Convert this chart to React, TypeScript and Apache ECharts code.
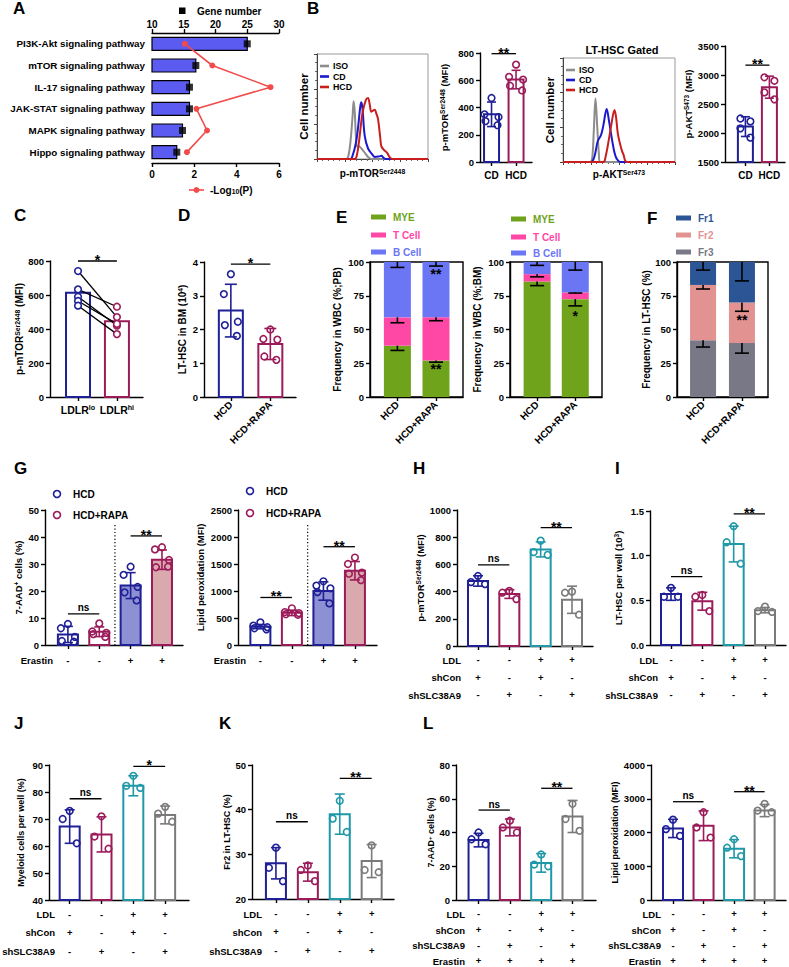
import React, { useEffect, useRef } from "react";
import * as echarts from "echarts";

const FONT = "Liberation Sans";
const BLACK = "#000";

// ---------------- DATA ----------------
// A
const pathways = ["PI3K-Akt signaling pathway", "mTOR signaling pathway", "IL-17 signaling pathway", "JAK-STAT signaling pathway", "MAPK signaling pathway", "Hippo signaling pathway"];
const geneNumber = [25, 16.9, 15.9, 15.9, 14.8, 13.9];
const negLog10P = [1.55, 2.85, 5.6, 2.1, 2.6, 1.65];

// B histograms [relative fluorescence, relative count]
const mtorIso = [[0, 0], [26, 0], [28, 2], [30, 15], [32, 40], [33, 55], [34, 45], [35, 22], [36, 12], [38, 12], [40, 10], [43, 6], [46, 2], [49, 0], [100, 0]];
const mtorCd = [[0, 0], [30, 0], [32, 3], [35, 15], [37, 30], [39, 50], [40, 54], [41, 48], [43, 22], [46, 10], [50, 4], [52, 2], [56, 2.5], [58, 3], [60, 1], [62, 0], [100, 0]];
const mtorHcd = [[0, 0], [34, 0], [36, 4], [38, 18], [41, 44], [44, 56], [46, 58], [47.5, 52], [49, 45], [52, 47], [53.5, 43], [55, 38], [57, 20], [58, 12], [60, 9], [63, 6], [66, 1], [68, 0], [100, 0]];
const aktIso = [[0, 0], [24, 0], [26, 3], [27.5, 30], [29, 61], [30.5, 35], [32, 8], [33, 0], [100, 0]];
const aktCd = [[0, 0], [25, 0], [28, 5], [31, 20], [34, 26], [36, 35], [39, 51], [41, 40], [44, 20], [46, 9], [48, 3], [51, 0], [100, 0]];
const aktHcd = [[0, 0], [36, 0], [38, 5], [41, 22], [43, 35], [46, 50], [47.5, 42], [49, 27], [52, 13], [54, 7], [57, 0], [100, 0]];

// B bars
const groupsB = ["CD", "HCD"];
const mtorMean = [350, 605];
const mtorSD = [90, 68];
const mtorPoints = [[470, 350, 330, 300, 270], [715, 625, 605, 560, 525]];
const mtorSig: [number, number, number, string][] = [[0, 1, 795, "**"]];
const aktMean = [2110, 2790];
const aktSD = [170, 190];
const aktPoints = [[2250, 2200, 2080, 1920], [2960, 2900, 2700, 2580]];
const aktSig: [number, number, number, string][] = [[0, 1, 3170, "**"]];

// C
const groupsC = ["LDLR{sup|lo}", "LDLR{sup|hi}"];
const cMean = [613, 445];
const cLo = [741, 633, 590, 565, 537];
const cHi = [470, 531, 420, 430, 370];
const cSig: [number, number, number, string][] = [[0, 1, 800, "*"]];

// D
const groupsRapa = ["HCD", "HCD+RAPA"];
const dMean = [2.56, 1.57];
const dSD = [0.78, 0.46];
const dPoints = [[3.64, 3.05, 2.23, 2.13, 1.81], [2.0, 1.72, 1.7, 1.2, 1.1]];
const dSig: [number, number, number, string][] = [[0, 1, 3.94, "*"]];

// E (PB)
const ePbMye = [38, 27];
const ePbT = [21, 32];
const ePbB = [41, 41];
const ePbMyeErr = [3.5, 1.2];
const ePbTErr = [4, 2.5];
const ePbBErr = [4, 3];
const ePbStars: [number, number, string][] = [[1, 21, "**"], [1, 91, "**"]];
// E (BM)
const eBmMye = [85.5, 72.5];
const eBmT = [5.5, 5];
const eBmB = [9, 22.5];
const eBmMyeErr = [3, 5];
const eBmTErr = [2, 0.5];
const eBmBErr = [2.5, 6];
const eBmStars: [number, number, string][] = [[1, 60, "*"]];
// F
const fFr3 = [42, 40];
const fFr2 = [41, 30];
const fFr1 = [17, 30];
const fFr3Err = [5, 7.5];
const fFr2Err = [3, 6.5];
const fFr1Err = [6, 14];
const fStars: [number, number, string][] = [[1, 57, "**"]];

// G
const erastinRow = ["-", "-", "+", "+"];
const gAadMean = [3.9, 4.9, 22.0, 31.6];
const gAadSD = [3.0, 1.8, 4.8, 3.6];
const gAadPoints = [[7.8, 6.2, 3.0, 1.5, 1.2], [8.0, 5.0, 4.5, 4.0, 3.0], [29, 26, 21.5, 19.5, 16.5], [36.2, 35.4, 31.5, 28.8, 29]];
const gAadSig: [number, number, number, string][] = [[0, 1, 11.5, "ns"], [2, 3, 40.4, "**"]];
const gLipMean = [340, 595, 1000, 1375];
const gLipSD = [40, 50, 170, 170];
const gLipPoints = [[420, 360, 330, 310, 290], [680, 610, 590, 570, 560], [1180, 1100, 1050, 980, 770], [1620, 1500, 1340, 1320, 1200]];
const gLipSig: [number, number, number, string][] = [[0, 1, 880, "**"], [2, 3, 1820, "**"]];

// H - L rows
const ldlRow = ["-", "-", "+", "+"];
const shConRow = ["+", "-", "+", "-"];
const shSlcRow = ["-", "+", "-", "+"];
const erastinAll = ["+", "+", "+", "+"];

const hMean = [478, 382, 710, 340];
const hSD = [38, 32, 55, 100];
const hPoints = [[515, 470, 455], [405, 392, 345], [775, 690, 670], [400, 392, 230]];
const hSig: [number, number, number, string][] = [[0, 1, 596, "ns"], [2, 3, 870, "**"]];

const iMean = [0.57, 0.49, 1.13, 0.39];
const iSD = [0.07, 0.1, 0.2, 0.03];
const iPoints = [[0.64, 0.54, 0.54], [0.56, 0.54, 0.38], [1.33, 1.15, 0.91], [0.43, 0.38, 0.37]];
const iSig: [number, number, number, string][] = [[0, 1, 0.765, "ns"], [2, 3, 1.467, "**"]];

const jMean = [67.2, 64.3, 82.3, 71.5];
const jSD = [6.2, 6.5, 3.7, 3.3];
const jPoints = [[73, 70, 61], [71, 63.5, 59], [86, 82.3, 81.5], [74.5, 72, 69]];
const jSig: [number, number, number, string][] = [[0, 1, 77.5, "ns"], [2, 3, 89.5, "*"]];

const kMean = [28, 26, 39, 28.5];
const kSD = [3.5, 2, 4.5, 3.7];
const kPoints = [[31.5, 27, 24], [27.5, 26.5, 24], [42, 38, 35], [32, 26.5, 26]];
const kSig: [number, number, number, string][] = [[0, 1, 37.3, "ns"], [2, 3, 47, "**"]];

const lAadMean = [35.5, 43, 22, 49.5];
const lAadSD = [4, 5, 5.5, 9.5];
const lAadPoints = [[40, 36, 33], [47, 43, 40], [27, 21, 20], [57, 48, 41]];
const lAadSig: [number, number, number, string][] = [[0, 1, 53.3, "ns"], [2, 3, 66.2, "**"]];

const lLipMean = [2120, 2200, 1520, 2650];
const lLipSD = [270, 440, 270, 180];
const lLipPoints = [[2380, 2100, 1900], [2600, 2150, 1850], [1800, 1550, 1300], [2850, 2650, 2600]];
const lLipSig: [number, number, number, string][] = [[0, 1, 2912, "ns"], [2, 3, 3209, "**"]];

// ---------------- STYLE ----------------
const NAVY = "#1f1f96";
const MAROON = "#9b1b5a";
const TEAL = "#1f98a8";
const GREY = "#7a7a7a";
const NAVY_FILL = "#8d90d2";
const MAROON_FILL = "#d9a9ad";
const C_MYE = "#6ea31b";
const C_T = "#ff48a5";
const C_B = "#6b76f5";
const C_FR1 = "#2c5595";
const C_FR2 = "#e39292";
const C_FR3 = "#787886";

const JIT: Record<number, number[]> = {
  3: [0, -7, 7],
  4: [-5, 5, -5, 5],
  5: [0, -7, 7, -6, 6],
};

const axLine = { show: true, onZero: false, lineStyle: { color: BLACK, width: 1.4 } };
const axTick = { show: true, length: 4, inside: false, lineStyle: { color: BLACK, width: 1.4 } };
const txt = (size = 9.5) => ({ color: BLACK, fontFamily: FONT, fontWeight: "bold", fontSize: size });
const richFor = (size: number) => ({
  sup: { fontSize: size * 0.68, verticalAlign: "top", fontFamily: FONT, fontWeight: "bold", color: BLACK },
  sub: { fontSize: size * 0.68, verticalAlign: "bottom", fontFamily: FONT, fontWeight: "bold", color: BLACK },
});

type Opt = { grid: any[]; xAxis: any[]; yAxis: any[]; series: any[]; graphic: any[] };

interface PanelCfg {
  left: number; top: number; width: number; height: number;
  xMin: number; xMax: number; yMin: number; yMax: number; yInterval: number;
  labels: string[]; rotate?: number; labelMargin?: number; lineHeight?: number; labelSize?: number;
  yName: string; yNameGap: number; yNameSize?: number; frame?: boolean; yDecimals?: number;
}

interface Ax { xi: number; yi: number; c: PanelCfg }

function panel(o: Opt, c: PanelCfg): Ax {
  const gi = o.grid.length;
  o.grid.push({
    left: c.left, top: c.top, width: c.width, height: c.height, containLabel: false, outerBoundsMode: "none",
    show: !!c.frame, borderColor: BLACK, borderWidth: 1.4, backgroundColor: "transparent",
  });
  const idx = c.labels.map((_, i) => i);
  const xi = o.xAxis.length;
  const ls = c.labelSize ?? 9.5;
  o.xAxis.push({
    gridIndex: gi, type: "value", min: c.xMin, max: c.xMax,
    splitLine: { show: false },
    axisLine: axLine,
    axisTick: { ...axTick, customValues: idx },
    axisLabel: {
      ...txt(ls), customValues: idx, formatter: (v: number) => c.labels[Math.round(v)] ?? "",
      margin: c.labelMargin ?? 6, rotate: c.rotate ?? 0, lineHeight: c.lineHeight, rich: richFor(ls), hideOverlap: false,
    },
  });
  const yi = o.yAxis.length;
  const ns = c.yNameSize ?? 9.5;
  o.yAxis.push({
    gridIndex: gi, type: "value", min: c.yMin, max: c.yMax, interval: c.yInterval,
    splitLine: { show: false },
    axisLine: axLine,
    axisTick: axTick,
    axisLabel: {
      ...txt(9.5), margin: 6,
      formatter: (v: number) => (c.yDecimals ? v.toFixed(c.yDecimals) : String(v)),
    },
    name: c.yName, nameLocation: "middle", nameGap: c.yNameGap, nameRotate: 90,
    nameTextStyle: { ...txt(ns), rich: richFor(ns) },
  });
  return { xi, yi, c };
}

function addBars(o: Opt, a: Ax, means: number[], fills: string[], strokes: string[], bw: number) {
  o.series.push({
    type: "custom", coordinateSystem: "cartesian2d", xAxisIndex: a.xi, yAxisIndex: a.yi, silent: true,
    data: means.map((m, i) => [i, m]),
    renderItem: (p: any, api: any) => {
      const i = api.value(0);
      const t = api.coord([i, api.value(1)]);
      const b = api.coord([i, a.c.yMin]);
      return {
        type: "rect",
        shape: { x: t[0] - bw / 2, y: t[1], width: bw, height: b[1] - t[1] },
        style: { fill: fills[p.dataIndex], stroke: strokes[p.dataIndex], lineWidth: 2 },
      };
    },
  });
}

function addErr(o: Opt, a: Ax, means: number[], sds: number[], colors: string[], cap = 10) {
  o.series.push({
    type: "custom", coordinateSystem: "cartesian2d", xAxisIndex: a.xi, yAxisIndex: a.yi, silent: true,
    data: means.map((m, i) => [i, m - sds[i], m + sds[i]]),
    renderItem: (p: any, api: any) => {
      const i = api.value(0);
      const lo = api.coord([i, api.value(1)]);
      const hi = api.coord([i, api.value(2)]);
      const st = { stroke: colors[p.dataIndex], lineWidth: 1.6 };
      return {
        type: "group",
        children: [
          { type: "line", shape: { x1: lo[0], y1: lo[1], x2: hi[0], y2: hi[1] }, style: st },
          { type: "line", shape: { x1: hi[0] - cap / 2, y1: hi[1], x2: hi[0] + cap / 2, y2: hi[1] }, style: st },
          { type: "line", shape: { x1: lo[0] - cap / 2, y1: lo[1], x2: lo[0] + cap / 2, y2: lo[1] }, style: st },
        ],
      };
    },
  });
}

function addPoints(o: Opt, a: Ax, pts: number[][], colors: string[]) {
  const data: number[][] = [];
  pts.forEach((arr, i) => arr.forEach((v, k) => data.push([i, v, k])));
  o.series.push({
    type: "custom", coordinateSystem: "cartesian2d", xAxisIndex: a.xi, yAxisIndex: a.yi, silent: true,
    data,
    renderItem: (p: any, api: any) => {
      const i = api.value(0);
      const k = api.value(2);
      const pt = api.coord([i, api.value(1)]);
      const j = (JIT[pts[i].length] || [0])[k] || 0;
      return {
        type: "circle",
        shape: { cx: pt[0] + j, cy: pt[1], r: 3.3 },
        style: { fill: "none", stroke: colors[i], lineWidth: 1.6 },
      };
    },
  });
}

function addSig(o: Opt, a: Ax, sigs: [number, number, number, string][]) {
  o.series.push({
    type: "custom", coordinateSystem: "cartesian2d", xAxisIndex: a.xi, yAxisIndex: a.yi, silent: true,
    data: sigs.map((s) => [s[0], s[1], s[2]]),
    renderItem: (p: any, api: any) => {
      const s = api.coord([api.value(0), api.value(2)]);
      const e = api.coord([api.value(1), api.value(2)]);
      const label = sigs[p.dataIndex][3];
      const isStar = label.indexOf("*") >= 0;
      return {
        type: "group",
        children: [
          { type: "line", shape: { x1: s[0], y1: s[1], x2: e[0], y2: e[1] }, style: { stroke: BLACK, lineWidth: 1.3 } },
          {
            type: "text", x: (s[0] + e[0]) / 2, y: isStar ? s[1] + 6 : s[1] - 1,
            style: { text: label, fill: BLACK, fontFamily: FONT, fontWeight: "bold", fontSize: isStar ? 14 : 10, align: "center", verticalAlign: "bottom" },
          },
        ],
      };
    },
  });
}

function addStars(o: Opt, a: Ax, stars: [number, number, string][]) {
  o.series.push({
    type: "custom", coordinateSystem: "cartesian2d", xAxisIndex: a.xi, yAxisIndex: a.yi, silent: true,
    data: stars.map((s) => [s[0], s[1]]),
    renderItem: (p: any, api: any) => {
      const pt = api.coord([api.value(0), api.value(1)]);
      return {
        type: "text", x: pt[0], y: pt[1],
        style: { text: stars[p.dataIndex][2], fill: BLACK, fontFamily: FONT, fontWeight: "bold", fontSize: 14, align: "center", verticalAlign: "middle" },
      };
    },
  });
}

function addStack(o: Opt, a: Ax, segs: { values: number[]; err: number[]; color: string }[], bw: number) {
  const n = segs[0].values.length;
  const base = new Array(n).fill(0);
  const errData: number[][] = [];
  segs.forEach((sg) => {
    const data = sg.values.map((v, i) => [i, base[i], base[i] + v]);
    sg.values.forEach((v, i) => {
      errData.push([i, base[i] + v, base[i] + v - sg.err[i]]);
      base[i] += v;
    });
    o.series.push({
      type: "custom", coordinateSystem: "cartesian2d", xAxisIndex: a.xi, yAxisIndex: a.yi, silent: true,
      data,
      renderItem: (p: any, api: any) => {
        const i = api.value(0);
        const lo = api.coord([i, api.value(1)]);
        const hi = api.coord([i, api.value(2)]);
        return { type: "rect", shape: { x: hi[0] - bw / 2, y: hi[1], width: bw, height: lo[1] - hi[1] }, style: { fill: sg.color } };
      },
    });
  });
  o.series.push({
    type: "custom", coordinateSystem: "cartesian2d", xAxisIndex: a.xi, yAxisIndex: a.yi, silent: true,
    data: errData,
    renderItem: (p: any, api: any) => {
      const i = api.value(0);
      const t = api.coord([i, api.value(1)]);
      const b = api.coord([i, api.value(2)]);
      const st = { stroke: BLACK, lineWidth: 1.6 };
      return {
        type: "group",
        children: [
          { type: "line", shape: { x1: t[0], y1: t[1], x2: b[0], y2: b[1] }, style: st },
          { type: "line", shape: { x1: b[0] - 7, y1: b[1], x2: b[0] + 7, y2: b[1] }, style: st },
        ],
      };
    },
  });
}

function addDotted(o: Opt, a: Ax, xv: number, top: number) {
  o.series.push({
    type: "custom", coordinateSystem: "cartesian2d", xAxisIndex: a.xi, yAxisIndex: a.yi, silent: true,
    data: [[xv, top]],
    renderItem: (p: any, api: any) => {
      const t = api.coord([api.value(0), api.value(1)]);
      const b = api.coord([api.value(0), a.c.yMin]);
      return { type: "line", shape: { x1: t[0], y1: t[1], x2: b[0], y2: b[1] }, style: { stroke: BLACK, lineWidth: 1.2, lineDash: [1.2, 2.2] } };
    },
  });
}

function histPanel(o: Opt, g: { left: number; top: number; width: number; height: number }, xName: string, nameGapX: number, curves: { data: number[][]; color: string }[]) {
  const gi = o.grid.length;
  o.grid.push({ ...g, containLabel: false, outerBoundsMode: "none", show: true, borderColor: "#9a9a9a", borderWidth: 1, backgroundColor: "transparent" });
  const xi = o.xAxis.length;
  o.xAxis.push({
    gridIndex: gi, type: "value", min: 0, max: 100, interval: 25,
    splitLine: { show: false },
    axisLine: { show: true, onZero: false, lineStyle: { color: "#444", width: 1 } },
    axisTick: { show: true, length: 3, lineStyle: { color: "#444" } },
    minorTick: { show: true, splitNumber: 5, length: 2, lineStyle: { color: "#666" } },
    axisLabel: { show: false },
    name: xName, nameLocation: "middle", nameGap: nameGapX, nameTextStyle: { ...txt(10), rich: richFor(10) },
  });
  const yi = o.yAxis.length;
  o.yAxis.push({
    gridIndex: gi, type: "value", min: 0, max: 100, interval: 100 / 3,
    splitLine: { show: false },
    axisLine: { show: true, onZero: false, lineStyle: { color: "#444", width: 1 } },
    axisTick: { show: true, length: 3, lineStyle: { color: "#444" } },
    minorTick: { show: true, splitNumber: 4, length: 2, lineStyle: { color: "#666" } },
    axisLabel: { show: false },
    name: "Cell number", nameLocation: "middle", nameGap: 7, nameTextStyle: txt(11.5),
  });
  curves.forEach((cv) => {
    o.series.push({
      type: "line", xAxisIndex: xi, yAxisIndex: yi, data: cv.data, showSymbol: false, smooth: 0.35,
      lineStyle: { color: cv.color, width: 2 }, itemStyle: { color: cv.color }, silent: true, clip: true,
    });
  });
}

function rowTitles(o: Opt, xRight: number, ys: number[], names: string[]) {
  names.forEach((n, k) => {
    o.graphic.push({ type: "text", x: xRight, y: ys[k], silent: true, style: { text: n, fill: BLACK, fontFamily: FONT, fontWeight: "bold", fontSize: 9.5, align: "right", verticalAlign: "middle" } });
  });
}

function rowsLabels(rows: string[][]) {
  return rows[0].map((_, i) => rows.map((r) => r[i]).join("\n"));
}

function buildOption() {
  const o: Opt = { grid: [], xAxis: [], yAxis: [], series: [], graphic: [] };

  // ---------- Panel letters ----------
  const letters: [string, number, number][] = [
    ["A", 13, 0], ["B", 307, 0], ["C", 14, 207], ["D", 178, 207], ["E", 336, 209], ["F", 647, 210],
    ["G", 14, 460], ["H", 413, 460], ["I", 615, 460], ["J", 14, 715], ["K", 219, 715], ["L", 423, 715],
  ];
  letters.forEach(([t, x, y]) => o.graphic.push({ type: "text", x, y, silent: true, style: { text: t, fill: BLACK, fontFamily: FONT, fontWeight: "bold", fontSize: 17, verticalAlign: "top" } }));

  // ---------- A ----------
  {
    const gi = o.grid.length;
    o.grid.push({ left: 152, top: 33, width: 127, height: 130, containLabel: false, outerBoundsMode: "none" });
    const xTop = o.xAxis.length;
    o.xAxis.push({
      gridIndex: gi, type: "value", position: "top", min: 10, max: 30, interval: 5,
      splitLine: { show: false }, axisLine: axLine, axisTick: axTick, axisLabel: { ...txt(10), margin: 4 },
    });
    const xBot = o.xAxis.length;
    o.xAxis.push({
      gridIndex: gi, type: "value", position: "bottom", min: 0, max: 6, interval: 2,
      splitLine: { show: false }, axisLine: axLine, axisTick: axTick, axisLabel: { ...txt(10), margin: 6 },
    });
    const yA = o.yAxis.length;
    o.yAxis.push({
      gridIndex: gi, type: "category", data: pathways, inverse: true,
      axisLine: { show: false }, axisTick: { show: false }, axisLabel: { ...txt(9.8), margin: 7 },
    });
    o.series.push({
      type: "custom", coordinateSystem: "cartesian2d", xAxisIndex: xTop, yAxisIndex: yA, silent: true,
      data: geneNumber.map((v, i) => [v, i]),
      renderItem: (p: any, api: any) => {
        const i = api.value(1);
        const s = api.coord([10, i]);
        const e = api.coord([api.value(0), i]);
        return { type: "rect", shape: { x: s[0], y: s[1] - 6.5, width: e[0] - s[0], height: 13 }, style: { fill: "#5b5bf2", stroke: BLACK, lineWidth: 1.2 } };
      },
    });
    o.series.push({
      type: "scatter", xAxisIndex: xTop, yAxisIndex: yA, data: geneNumber.map((v, i) => [v, i]),
      symbol: "rect", symbolSize: 7, itemStyle: { color: BLACK }, silent: true,
    });
    o.series.push({
      type: "line", xAxisIndex: xBot, yAxisIndex: yA, data: negLog10P.map((v, i) => [v, i]),
      symbol: "circle", symbolSize: 6, itemStyle: { color: "#f24b4b" }, lineStyle: { color: "#f24b4b", width: 1.6 }, silent: true,
    });
    o.graphic.push({ type: "rect", shape: { x: 179, y: 7.5, width: 6.5, height: 6.5 }, style: { fill: BLACK }, silent: true });
    o.graphic.push({ type: "text", x: 197, y: 11, silent: true, style: { text: "Gene number", fill: BLACK, fontFamily: FONT, fontWeight: "bold", fontSize: 10, verticalAlign: "middle" } });
    o.graphic.push({ type: "line", shape: { x1: 189, y1: 190, x2: 204, y2: 190 }, style: { stroke: "#f24b4b", lineWidth: 1.6 }, silent: true });
    o.graphic.push({ type: "circle", shape: { cx: 196.5, cy: 190, r: 3 }, style: { fill: "#f24b4b" }, silent: true });
    o.graphic.push({ type: "text", x: 210, y: 190, silent: true, style: { text: "-Log{sub|10}(P)", fill: BLACK, fontFamily: FONT, fontWeight: "bold", fontSize: 10, verticalAlign: "middle", rich: richFor(10) } });
  }

  // ---------- B ----------
  histPanel(o, { left: 317, top: 54, width: 111, height: 105 }, "p-mTOR{sup|Ser2448}", 9, [
    { data: mtorIso, color: "#8c8c8c" }, { data: mtorCd, color: "#1a1acc" }, { data: mtorHcd, color: "#c81e1e" },
  ]);
  histPanel(o, { left: 563, top: 58, width: 112, height: 104 }, "p-AKT{sup|Ser473}", 7, [
    { data: aktIso, color: "#8c8c8c" }, { data: aktCd, color: "#1a1acc" }, { data: aktHcd, color: "#c81e1e" },
  ]);
  const legB = (x: number, ys: number[]) => {
    const items: [string, string][] = [["ISO", "#8c8c8c"], ["CD", "#1a1acc"], ["HCD", "#c81e1e"]];
    items.forEach(([n, col], k) => {
      o.graphic.push({ type: "line", shape: { x1: x, y1: ys[k], x2: x + 9, y2: ys[k] }, style: { stroke: col, lineWidth: 2.6 }, silent: true });
      o.graphic.push({ type: "text", x: x + 13, y: ys[k], silent: true, style: { text: n, fill: BLACK, fontFamily: FONT, fontWeight: "bold", fontSize: 8.8, verticalAlign: "middle", lineHeight: 9 } });
    });
  };
  legB(320, [66, 76.5, 87]);
  legB(566, [70, 80, 90]);
  o.graphic.push({ type: "text", x: 622, y: 50, silent: true, style: { text: "LT-HSC Gated", fill: BLACK, fontFamily: FONT, fontWeight: "bold", fontSize: 11, align: "center", verticalAlign: "middle" } });

  const bM = panel(o, { left: 480, top: 53, width: 52, height: 109, xMin: -0.47, xMax: 1.65, yMin: 0, yMax: 800, yInterval: 200, labels: groupsB, labelMargin: 8, labelSize: 10, yName: "p-mTOR{sup|Ser2448} (MFI)", yNameGap: 31 });
  addBars(o, bM, mtorMean, ["#fff", "#fff"], [NAVY, MAROON], 15);
  addErr(o, bM, mtorMean, mtorSD, [NAVY, MAROON], 9);
  addPoints(o, bM, mtorPoints, [NAVY, MAROON]);
  addSig(o, bM, mtorSig);

  const bA = panel(o, { left: 725, top: 46, width: 60, height: 116, xMin: -0.85, xMax: 1.65, yMin: 1500, yMax: 3500, yInterval: 500, labels: groupsB, labelMargin: 8, labelSize: 10, yName: "p-AKT{sup|S473} (MFI)", yNameGap: 24 });
  addBars(o, bA, aktMean, ["#fff", "#fff"], [NAVY, MAROON], 15);
  addErr(o, bA, aktMean, aktSD, [NAVY, MAROON], 9);
  addPoints(o, bA, aktPoints, [NAVY, MAROON]);
  addSig(o, bA, aktSig);

  // ---------- C ----------
  const cA = panel(o, { left: 50, top: 261, width: 93, height: 136, xMin: -0.72, xMax: 1.67, yMin: 0, yMax: 800, yInterval: 200, labels: groupsC, labelMargin: 7, labelSize: 10.5, yName: "p-mTOR{sup|Ser2448} (MFI)", yNameGap: 26, yNameSize: 10 });
  addBars(o, cA, cMean, ["#fff", "#fff"], [NAVY, MAROON], 24);
  o.series.push({
    type: "custom", coordinateSystem: "cartesian2d", xAxisIndex: cA.xi, yAxisIndex: cA.yi, silent: true,
    data: cLo.map((v, k) => [v, cHi[k]]),
    renderItem: (p: any, api: any) => {
      const a = api.coord([0, api.value(0)]);
      const b = api.coord([1, api.value(1)]);
      return {
        type: "group",
        children: [
          { type: "line", shape: { x1: a[0], y1: a[1], x2: b[0], y2: b[1] }, style: { stroke: BLACK, lineWidth: 1.3 } },
          { type: "circle", shape: { cx: a[0], cy: a[1], r: 3.3 }, style: { fill: "#fff", stroke: NAVY, lineWidth: 1.6 } },
          { type: "circle", shape: { cx: b[0], cy: b[1], r: 3.3 }, style: { fill: "#fff", stroke: MAROON, lineWidth: 1.6 } },
        ],
      };
    },
  });
  addSig(o, cA, cSig);

  // ---------- D ----------
  const dA = panel(o, { left: 204, top: 262, width: 92, height: 135, xMin: -0.68, xMax: 1.65, yMin: 0, yMax: 4, yInterval: 1, labels: groupsRapa, rotate: 45, labelMargin: 6, labelSize: 10, yName: "LT-HSC in BM (10{sup|4})", yNameGap: 17, yNameSize: 10 });
  addBars(o, dA, dMean, ["#fff", "#fff"], [NAVY, MAROON], 24);
  addErr(o, dA, dMean, dSD, [NAVY, MAROON], 12);
  addPoints(o, dA, dPoints, [NAVY, MAROON]);
  addSig(o, dA, dSig);

  // ---------- E ----------
  const e1 = panel(o, { left: 370, top: 262, width: 93, height: 135, xMin: -0.71, xMax: 1.7, yMin: 0, yMax: 100, yInterval: 25, labels: groupsRapa, rotate: 45, labelMargin: 6, labelSize: 10, yName: "Frequency in WBC (%;PB)", yNameGap: 28, yNameSize: 10, frame: true });
  addStack(o, e1, [
    { values: ePbMye, err: ePbMyeErr, color: C_MYE },
    { values: ePbT, err: ePbTErr, color: C_T },
    { values: ePbB, err: ePbBErr, color: C_B },
  ], 27);
  addStars(o, e1, ePbStars);
  const e2 = panel(o, { left: 510, top: 262, width: 92, height: 135, xMin: -0.71, xMax: 1.7, yMin: 0, yMax: 100, yInterval: 25, labels: groupsRapa, rotate: 45, labelMargin: 6, labelSize: 10, yName: "Frequency in WBC (%;BM)", yNameGap: 28, yNameSize: 10, frame: true });
  addStack(o, e2, [
    { values: eBmMye, err: eBmMyeErr, color: C_MYE },
    { values: eBmT, err: eBmTErr, color: C_T },
    { values: eBmB, err: eBmBErr, color: C_B },
  ], 27);
  addStars(o, e2, eBmStars);
  const legRects = (x: number, ys: number[], items: [string, string][]) => {
    items.forEach(([n, col], k) => {
      o.graphic.push({ type: "rect", shape: { x, y: ys[k] - 2.5, width: 15, height: 5 }, style: { fill: col }, silent: true });
      o.graphic.push({ type: "text", x: x + 22, y: ys[k], silent: true, style: { text: n, fill: col, fontFamily: FONT, fontWeight: "bold", fontSize: 10, verticalAlign: "middle" } });
    });
  };
  legRects(371, [217, 235, 252], [["MYE", C_MYE], ["T Cell", C_T], ["B Cell", C_B]]);
  legRects(511, [219, 237, 253], [["MYE", C_MYE], ["T Cell", C_T], ["B Cell", C_B]]);

  // ---------- F ----------
  const fA = panel(o, { left: 677, top: 262, width: 91, height: 135, xMin: -0.67, xMax: 1.67, yMin: 0, yMax: 100, yInterval: 25, labels: groupsRapa, rotate: 45, labelMargin: 6, labelSize: 10, yName: "Frequency in LT-HSC (%)", yNameGap: 24, yNameSize: 10, frame: true });
  addStack(o, fA, [
    { values: fFr3, err: fFr3Err, color: C_FR3 },
    { values: fFr2, err: fFr2Err, color: C_FR2 },
    { values: fFr1, err: fFr1Err, color: C_FR1 },
  ], 26);
  addStars(o, fA, fStars);
  legRects(676, [218, 235, 252], [["Fr1", C_FR1], ["Fr2", C_FR2], ["Fr3", C_FR3]]);

  // ---------- G ----------
  const gColors = [NAVY, MAROON, NAVY, MAROON];
  const gFills = ["#fff", "#fff", NAVY_FILL, MAROON_FILL];
  const g1 = panel(o, { left: 45, top: 510, width: 138, height: 135, xMin: -0.73, xMax: 3.67, yMin: 0, yMax: 50, yInterval: 10, labels: erastinRow, labelMargin: 9, lineHeight: 12, yName: "7-AAD{sup|+} cells (%)", yNameGap: 22 });
  addDotted(o, g1, 1.5, 44.4);
  addBars(o, g1, gAadMean, gFills, gColors, 20);
  addErr(o, g1, gAadMean, gAadSD, gColors, 10);
  addPoints(o, g1, gAadPoints, gColors);
  addSig(o, g1, gAadSig);
  rowTitles(o, 53, [660], ["Erastin"]);

  const g2 = panel(o, { left: 238, top: 510, width: 139, height: 135, xMin: -0.71, xMax: 3.7, yMin: 0, yMax: 2500, yInterval: 500, labels: erastinRow, labelMargin: 9, lineHeight: 12, yName: "Lipid peroxidation (MFI)", yNameGap: 33 });
  addDotted(o, g2, 1.5, 2222);
  addBars(o, g2, gLipMean, gFills, gColors, 20);
  addErr(o, g2, gLipMean, gLipSD, gColors, 10);
  addPoints(o, g2, gLipPoints, gColors);
  addSig(o, g2, gLipSig);
  rowTitles(o, 246, [660], ["Erastin"]);

  const legG = (x: number, ys: number[]) => {
    const items: [string, string][] = [["HCD", NAVY], ["HCD+RAPA", MAROON]];
    items.forEach(([n, col], k) => {
      o.graphic.push({ type: "circle", shape: { cx: x, cy: ys[k], r: 3.5 }, style: { fill: "none", stroke: col, lineWidth: 1.6 }, silent: true });
      o.graphic.push({ type: "text", x: x + 16, y: ys[k], silent: true, style: { text: n, fill: BLACK, fontFamily: FONT, fontWeight: "bold", fontSize: 10, verticalAlign: "middle" } });
    });
  };
  legG(57, [494, 515]);
  legG(250, [491, 513]);

  // ---------- H / I ----------
  const c4 = [NAVY, MAROON, TEAL, GREY];
  const w4 = ["#fff", "#fff", "#fff", "#fff"];
  const rows3 = rowsLabels([ldlRow, shConRow, shSlcRow]);
  const rows4 = rowsLabels([ldlRow, shConRow, shSlcRow, erastinAll]);
  const hA = panel(o, { left: 457, top: 510, width: 136, height: 136, xMin: -0.67, xMax: 3.67, yMin: 0, yMax: 1000, yInterval: 200, labels: rows3, labelMargin: 5, lineHeight: 17.5, yName: "p-mTOR{sup|Ser2448} (MFI)", yNameGap: 29 });
  addBars(o, hA, hMean, w4, c4, 20);
  addErr(o, hA, hMean, hSD, c4, 10);
  addPoints(o, hA, hPoints, c4);
  addSig(o, hA, hSig);
  rowTitles(o, 461, [660, 677.5, 695], ["LDL", "shCon", "shSLC38A9"]);

  const iA = panel(o, { left: 650, top: 511, width: 136, height: 134, xMin: -0.67, xMax: 3.67, yMin: 0, yMax: 1.5, yInterval: 0.5, yDecimals: 1, labels: rows3, labelMargin: 6, lineHeight: 17.5, yName: "LT-HSC per well (10{sup|3})", yNameGap: 27 });
  addBars(o, iA, iMean, w4, c4, 20);
  addErr(o, iA, iMean, iSD, c4, 10);
  addPoints(o, iA, iPoints, c4);
  addSig(o, iA, iSig);
  rowTitles(o, 658, [660, 677.5, 695], ["LDL", "shCon", "shSLC38A9"]);

  // ---------- J / K / L ----------
  const jA = panel(o, { left: 49, top: 765, width: 140, height: 135, xMin: -0.65, xMax: 3.75, yMin: 40, yMax: 90, yInterval: 10, labels: rows3, labelMargin: 5, lineHeight: 18.5, yName: "Myeloid cells per well (%)", yNameGap: 24, yNameSize: 9 });
  addBars(o, jA, jMean, w4, c4, 20);
  addErr(o, jA, jMean, jSD, c4, 10);
  addPoints(o, jA, jPoints, c4);
  addSig(o, jA, jSig);
  rowTitles(o, 55, [914, 932.5, 951], ["LDL", "shCon", "shSLC38A9"]);

  const kA = panel(o, { left: 252, top: 765, width: 142, height: 134, xMin: -0.75, xMax: 3.7, yMin: 20, yMax: 50, yInterval: 10, labels: rows3, labelMargin: 5, lineHeight: 18.5, yName: "Fr2 in LT-HSC (%)", yNameGap: 20, yNameSize: 9 });
  addBars(o, kA, kMean, w4, c4, 20);
  addErr(o, kA, kMean, kSD, c4, 10);
  addPoints(o, kA, kPoints, c4);
  addSig(o, kA, kSig);
  rowTitles(o, 262, [914, 932.5, 951], ["LDL", "shCon", "shSLC38A9"]);

  const l1 = panel(o, { left: 456, top: 765, width: 140, height: 135, xMin: -0.72, xMax: 3.75, yMin: 0, yMax: 80, yInterval: 20, labels: rows4, labelMargin: 6, lineHeight: 15.7, yName: "7-AAD{sup|+} cells (%)", yNameGap: 18, yNameSize: 9 });
  addBars(o, l1, lAadMean, w4, c4, 20);
  addErr(o, l1, lAadMean, lAadSD, c4, 10);
  addPoints(o, l1, lAadPoints, c4);
  addSig(o, l1, lAadSig);
  rowTitles(o, 465, [914, 930, 945.5, 961], ["LDL", "shCon", "shSLC38A9", "Erastin"]);

  const l2 = panel(o, { left: 651, top: 765, width: 135, height: 135, xMin: -0.72, xMax: 3.7, yMin: 0, yMax: 4000, yInterval: 1000, labels: rows4, labelMargin: 6, lineHeight: 15.7, yName: "Lipid peroxidation (MFI)", yNameGap: 32, yNameSize: 9 });
  addBars(o, l2, lLipMean, w4, c4, 20);
  addErr(o, l2, lLipMean, lLipSD, c4, 10);
  addPoints(o, l2, lLipPoints, c4);
  addSig(o, l2, lLipSig);
  rowTitles(o, 661, [914, 930, 945.5, 961], ["LDL", "shCon", "shSLC38A9", "Erastin"]);

  return {
    animation: false,
    backgroundColor: "#fff",
    textStyle: { fontFamily: FONT },
    grid: o.grid,
    xAxis: o.xAxis,
    yAxis: o.yAxis,
    series: o.series,
    graphic: o.graphic,
  };
}

export default function App() {
  const ref = useRef<HTMLDivElement>(null);
  useEffect(() => {
    if (!ref.current) return;
    const chart = echarts.init(ref.current, null, { renderer: "svg" });
    chart.setOption(buildOption() as any);
    return () => chart.dispose();
  }, []);
  return <div ref={ref} style={{ position: "absolute", left: 0, top: 0, width: 789, height: 967, background: "#fff" }} />;
}
